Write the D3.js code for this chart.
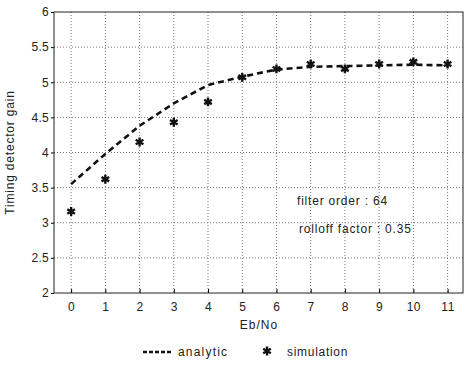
<!DOCTYPE html>
<html>
<head>
<meta charset="utf-8">
<script src="https://cdn.jsdelivr.net/npm/d3@7"></script>
<style>
  body { margin: 0; background: #fff; }
  svg { font-family: 'Liberation Sans', Arial, sans-serif; }
</style>
</head>
<body>
<svg id="area" width="467" height="368"></svg>
<script>
const ebno = [0, 1, 2, 3, 4, 5, 6, 7, 8, 9, 10, 11];
const analytic = [3.55, 3.98, 4.38, 4.70, 4.96, 5.08, 5.18, 5.22, 5.23, 5.24, 5.25, 5.24];
const simulation = [3.16, 3.62, 4.15, 4.43, 4.72, 5.07, 5.19, 5.26, 5.19, 5.26, 5.29, 5.26];
const yTicks = [2, 2.5, 3, 3.5, 4, 4.5, 5, 5.5, 6];
const notes = ['filter order : 64', 'rolloff factor : 0.35'];

const svg = d3.select('#area');
const plotL = 54, plotR = 463, plotT = 12, plotB = 293;

const x = d3.scaleLinear().domain([-0.5, 11.45]).range([plotL, plotR]);
const y = d3.scaleLinear().domain([2, 6]).range([plotB, plotT]);

// grid
const grid = svg.append('g')
  .attr('stroke', '#555')
  .attr('stroke-width', 0.8)
  .attr('stroke-dasharray', '1,2');
grid.selectAll('.gx')
  .data(ebno)
  .join('line')
  .attr('x1', (d) => x(d)).attr('x2', (d) => x(d))
  .attr('y1', plotT).attr('y2', plotB);
grid.selectAll('.gy')
  .data(yTicks.slice(1, -1))
  .join('line')
  .attr('x1', plotL).attr('x2', plotR)
  .attr('y1', (d) => y(d)).attr('y2', (d) => y(d));

// axes
svg.append('g')
  .attr('transform', `translate(0,${plotB})`)
  .call(d3.axisBottom(x).tickValues(ebno).tickSizeInner(-4).tickSizeOuter(0).tickPadding(9))
  .call((g) => g.select('.domain').remove())
  .call((g) => g.selectAll('text').attr('font-size', 12).attr('letter-spacing', 0.5).attr('fill', '#222'));

svg.append('g')
  .attr('transform', `translate(${plotL},0)`)
  .call(d3.axisLeft(y).tickValues(yTicks).tickFormat(d3.format('')).tickSizeInner(3).tickSizeOuter(0).tickPadding(2))
  .call((g) => g.select('.domain').remove())
  .call((g) => g.selectAll('text').attr('font-size', 12).attr('letter-spacing', 0.3).attr('fill', '#222'));

svg.append('rect')
  .attr('x', plotL).attr('y', plotT)
  .attr('width', plotR - plotL).attr('height', plotB - plotT)
  .attr('fill', 'none')
  .attr('stroke', '#222')
  .attr('stroke-width', 1);

// analytic curve
const line = d3.line().x((d, i) => x(ebno[i])).y((d) => y(d));
svg.append('path')
  .datum(analytic)
  .attr('d', line)
  .attr('fill', 'none')
  .attr('stroke', '#111')
  .attr('stroke-width', 2.6)
  .attr('stroke-dasharray', '6,4');

// simulation markers
const star = d3.symbol().type(d3.symbolAsterisk).size(55);
svg.append('g')
  .selectAll('path')
  .data(simulation)
  .join('path')
  .attr('transform', (d, i) => `translate(${x(ebno[i])},${y(d)})`)
  .attr('d', star)
  .attr('fill', 'none')
  .attr('stroke', '#111')
  .attr('stroke-width', 2.4);

// notes
svg.append('g')
  .selectAll('text')
  .data(notes)
  .join('text')
  .attr('x', (d, i) => 297 + i * 2)
  .attr('y', (d, i) => 205 + i * 28)
  .attr('font-size', 12)
  .attr('letter-spacing', 0.8)
  .attr('fill', '#222')
  .text((d) => d);

// axis titles
svg.append('text')
  .attr('x', 259).attr('y', 329)
  .attr('text-anchor', 'middle')
  .attr('font-size', 12)
  .attr('letter-spacing', 1)
  .attr('fill', '#222')
  .text('Eb/No');

svg.append('text')
  .attr('transform', `translate(14,${(plotT + plotB) / 2}) rotate(-90)`)
  .attr('text-anchor', 'middle')
  .attr('font-size', 12)
  .attr('letter-spacing', 0.8)
  .attr('fill', '#222')
  .text('Timing detector gain');

// legend
const legend = svg.append('g');
legend.append('line')
  .attr('x1', 143).attr('x2', 172)
  .attr('y1', 352).attr('y2', 352)
  .attr('stroke', '#111')
  .attr('stroke-width', 2.6)
  .attr('stroke-dasharray', '4,2');
legend.append('text')
  .attr('x', 178).attr('y', 356)
  .attr('font-size', 12)
  .attr('letter-spacing', 1.2)
  .attr('fill', '#222')
  .text('analytic');
legend.append('path')
  .attr('transform', 'translate(267,351)')
  .attr('d', star)
  .attr('fill', 'none')
  .attr('stroke', '#111')
  .attr('stroke-width', 2.4);
legend.append('text')
  .attr('x', 287).attr('y', 356)
  .attr('font-size', 12)
  .attr('letter-spacing', 0.7)
  .attr('fill', '#222')
  .text('simulation');
</script>
</body>
</html>
